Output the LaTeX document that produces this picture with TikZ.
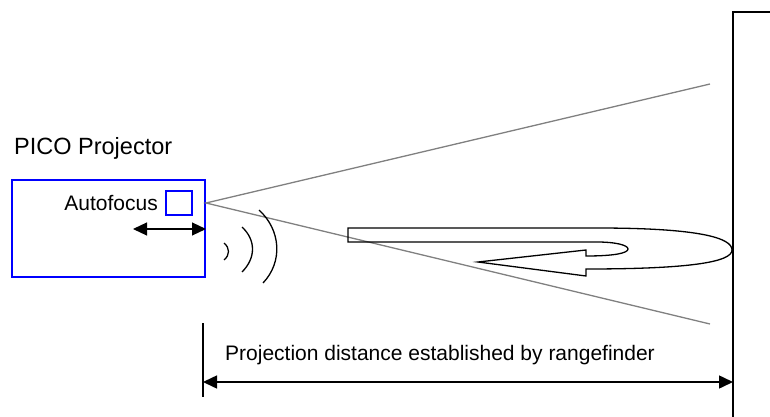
\documentclass[tikz,border=0pt]{standalone}
\usepackage{fontspec}
\setmainfont{Liberation Sans}
\usetikzlibrary{positioning,arrows.meta,calc}

\begin{document}
\begin{tikzpicture}[
        x=1pt, y=-1pt,
        font=\fontsize{21}{25}\selectfont,
        >={Triangle[length=14pt,width=13pt]},
        projbox/.style={
            rectangle,
            draw=blue,
            line width=2pt,
            inner sep=0pt
        },
        beam/.style={draw=black!50, line width=1.3pt},
        dimline/.style={<->, line width=1.5pt},
        wave/.style={line width=1.3pt},
    ]
    \useasboundingbox (0,0) rectangle (770,417);

    \def\screenx{733}
    \def\diml{203}
    \def\dimy{382}

    % projector
    \node[projbox, minimum width=193pt, minimum height=97pt] (proj) at (108.5,228.5) {};
    \node[projbox, minimum width=26pt, minimum height=24pt] (af) at (179,203) {};
    \node[left=7pt of af, inner sep=0pt] (aflabel) {Autofocus};
    \node[anchor=base west, inner sep=0pt, font=\fontsize{23.5}{28}\selectfont] (projlabel) at (14,154) {PICO Projector};

    \coordinate (focus) at (133,229);
    \draw[dimline, line width=1.1pt] (focus) -- (proj.east |- focus);

    % beam
    \coordinate (lens) at (proj.east |- af.center);
    \coordinate (beamtop) at (710,84);
    \coordinate (beambot) at (710,324);
    \draw[beam] (beamtop) -- (lens) -- (beambot);

    % screen
    \draw[line width=2pt] (770,12) -- (\screenx,12) -- (\screenx,417);

    % rangefinder waves
    \draw[wave] (224,243) .. controls (230,248) and (230,255) .. (224,260);
    \draw[wave] (242,227) .. controls (256,240) and (256,258) .. (242,272);
    \draw[wave] (259,210) .. controls (281,230) and (283,262) .. (263,283);

    % reflected signal
    \draw[line width=1.3pt] (348,228) -- (597,228)
        .. controls (700,228) and (732,238) .. (732,250)
        .. controls (732,262) and (690,269) .. (586,269)
        -- (586,276) -- (478,262) -- (586,250) -- (586,256)
        .. controls (615,256) and (628,253) .. (628,249)
        .. controls (628,245) and (615,242) .. (597,242)
        -- (348,242) -- cycle;

    % distance
    \coordinate (dimL) at (\diml,\dimy);
    \coordinate (dimR) at (\screenx,\dimy);
    \draw[line width=1.5pt] (\diml,323) -- (\diml,397);
    \draw[dimline] (dimL) -- (dimR);
    \node[anchor=base west, inner sep=0pt] (dimlabel) at (225,360) {Projection distance established by rangefinder};
\end{tikzpicture}
\end{document}
